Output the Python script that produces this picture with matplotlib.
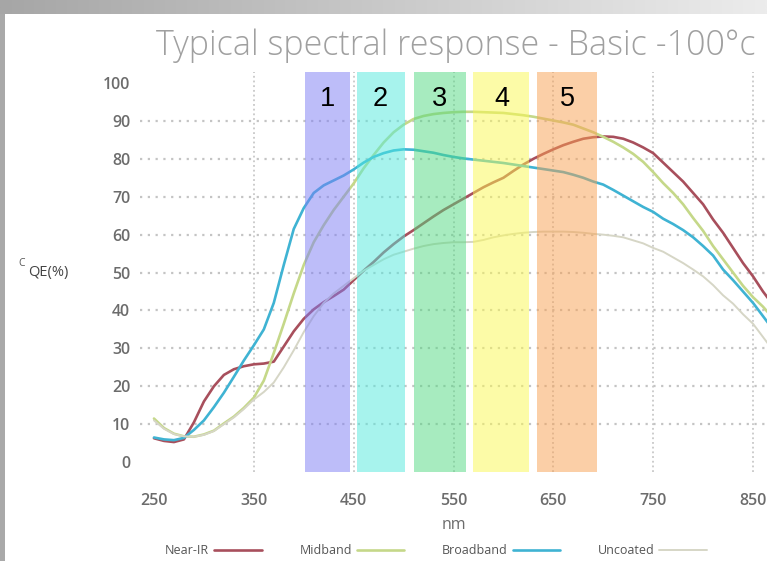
import numpy as np
import matplotlib
matplotlib.use('Agg')
import matplotlib.pyplot as plt

## Wavelength grid (nm) and QE (%)
wavelength = [250, 260, 270, 280, 290, 300, 310, 320, 330, 340,
              350, 360, 370, 380, 390, 400, 410, 420, 430, 440,
              450, 460, 470, 480, 490, 500, 510, 520, 530, 540,
              550, 560, 570, 580, 590, 600, 610, 620, 630, 640,
              650, 660, 670, 680, 690, 700, 710, 720, 730, 740,
              750, 760, 770, 780, 790, 800, 810, 820, 830, 840,
              850, 860, 870]

near_ir = [6.3, 5.6, 5.3, 6.0, 10.5, 16.0, 20.0, 23.0, 24.5, 25.3,
           25.8, 26.0, 26.5, 30.5, 34.5, 37.8, 40.3, 42.2, 43.8, 45.5,
           48.0, 50.5, 52.8, 55.3, 57.5, 59.5, 61.2, 63.0, 64.8, 66.5,
           68.0, 69.5, 71.0, 72.5, 73.8, 75.0, 76.8, 78.5, 80.0, 81.3,
           82.5, 83.6, 84.5, 85.3, 85.7, 85.9, 85.8, 85.3, 84.3, 83.0,
           81.5, 79.0, 76.5, 74.0, 71.0, 68.0, 64.0, 60.5, 56.5, 52.5,
           49.0, 45.0, 41.5]

midband = [11.5, 9.0, 7.5, 6.8, 6.7, 7.3, 8.3, 10.2, 12.0, 14.3,
           17.0, 21.5, 28.8, 36.5, 44.5, 52.0, 58.0, 62.5, 66.5, 70.0,
           73.5, 77.5, 81.0, 84.3, 87.0, 89.0, 90.5, 91.3, 91.8, 92.1,
           92.3, 92.4, 92.4, 92.3, 92.2, 92.1, 91.8, 91.5, 91.1, 90.6,
           90.1, 89.6, 89.0, 88.0, 87.0, 85.8, 84.5, 83.0, 81.3, 79.2,
           76.5, 73.6, 71.0, 68.0, 64.4, 61.0, 57.0, 53.5, 50.0, 46.5,
           43.5, 41.0, 38.0]

broadband = [6.5, 6.0, 5.8, 6.4, 8.5, 11.0, 14.5, 18.3, 22.5, 26.8,
             30.8, 35.0, 42.0, 52.0, 61.5, 67.0, 71.0, 73.0, 74.3, 75.6,
             77.2, 79.0, 80.5, 81.5, 82.2, 82.5, 82.4, 82.0, 81.6, 81.0,
             80.5, 80.1, 79.8, 79.5, 79.2, 78.9, 78.5, 78.1, 77.7, 77.3,
             76.9, 76.5, 75.8, 75.0, 74.0, 73.2, 71.8, 70.3, 68.8, 67.3,
             66.0, 64.2, 62.8, 61.2, 59.3, 57.0, 54.5, 50.8, 48.0, 45.0,
             42.0, 38.5, 35.0]

uncoated = [11.0, 8.8, 7.4, 6.8, 6.7, 7.2, 8.2, 10.0, 11.8, 14.0,
            16.5, 18.5, 21.0, 25.0, 29.5, 34.3, 38.5, 42.0, 44.5, 46.5,
            48.5, 50.5, 52.0, 53.5, 54.7, 55.5, 56.3, 57.0, 57.5, 57.8,
            58.0, 58.0, 58.1, 58.6, 59.3, 59.8, 60.2, 60.5, 60.7, 60.8,
            60.8, 60.8, 60.7, 60.5, 60.2, 60.0, 59.7, 59.3, 58.5, 57.7,
            56.5, 55.5, 54.0, 52.5, 50.8, 49.0, 46.7, 44.0, 41.8, 39.0,
            36.5, 33.0, 29.5]

## Filter bands (nm) and their labels
band_labels = ['1', '2', '3', '4', '5']
band_start = [401, 453, 510, 570, 634]
band_end = [446, 501, 563, 626, 694]
band_colors = ['#7d7df5', '#51e9dd', '#51d981', '#fbf951', '#f9a151']

series_labels = ['Near-IR', 'Midband', 'Broadband', 'Uncoated']
series_colors = ['#a84f5c', '#c5d889', '#3fb3d3', '#d6d6c6']

x_ticks = [250, 350, 450, 550, 650, 750, 850]
y_ticks = [0, 10, 20, 30, 40, 50, 60, 70, 80, 90, 100]

fig = plt.figure(figsize=(7.67, 5.61), dpi=100)
fig.patch.set_facecolor('white')

## screenshot frame: grey bar on the left and gradient on top
frame_left = fig.add_axes([0, 0, 5 / 767, 1])
frame_left.set_facecolor('#a9a9a9')
frame_left.set_xticks([])
frame_left.set_yticks([])
for s in frame_left.spines.values():
    s.set_visible(False)
frame_top = fig.add_axes([0, 1 - 14 / 561, 1, 14 / 561])
frame_top.imshow(np.linspace(0, 1, 256)[None, :], aspect='auto',
                 cmap=matplotlib.colors.LinearSegmentedColormap.from_list('g', ['#a6a6a6', '#ececec']))
frame_top.axis('off')

ax = fig.add_axes([140 / 767, 89 / 561, 627 / 767, 400 / 561])
for s in ax.spines.values():
    s.set_visible(False)

series = [near_ir, midband, broadband, uncoated]
widths = [1.9, 1.9, 1.9, 1.4]
for vals, lab, col, lw in zip(series, series_labels, series_colors, widths):
    ax.plot(wavelength, vals, color=col, lw=lw, label=lab, zorder=3,
            solid_capstyle='round')

for lab, x0, x1, col in zip(band_labels, band_start, band_end, band_colors):
    ax.axvspan(x0, x1, color=col, alpha=0.5, lw=0, zorder=4)
    ax.text((x0 + x1) / 2, 95.8, lab, ha='center', va='center', fontsize=19.5,
            family='Liberation Sans', color='black', zorder=5)

ax.set_xlim(236, 864)
ax.set_ylim(-2.6, 102.9)
ax.set_xticks(x_ticks)
ax.set_yticks(y_ticks)
ax.tick_params(length=0, labelcolor='#6c6c6c', labelsize=11.5)
ax.tick_params(axis='x', pad=15)
ax.tick_params(axis='y', pad=7)
for lbl in ax.get_xticklabels() + ax.get_yticklabels():
    lbl.set_family('Open Sans')
    lbl.set_fontweight('semibold')

ax.grid(True, axis='y', color='#c4c4c4', linestyle=(0, (1, 2.5)), lw=1.6, zorder=1)
ax.grid(True, axis='x', color='#c8c8c8', linestyle=(0, (1, 1.6)), lw=1.3, zorder=1)
ax.xaxis.get_gridlines()[0].set_visible(False)
ax.yaxis.get_gridlines()[0].set_visible(False)
ax.yaxis.get_gridlines()[-1].set_visible(False)

ax.set_xlabel('nm', family='Open Sans', fontsize=11.5, color='#6c6c6c', labelpad=6)

fig.text(456 / 767, 1 - 46 / 561, 'Typical spectral response - Basic -100\u00b0c',
         ha='center', va='center', fontsize=24.5, color='#a0a0a0',
         family='Open Sans', fontweight='light')
fig.text(22 / 767, 1 - 263 / 561, 'C', ha='center', va='center', fontsize=7.5,
         color='#555555', family='Open Sans')
fig.text(48 / 767, 1 - 273 / 561, 'QE(%)', ha='center', va='center', fontsize=10.5,
         color='#444444', family='Open Sans')

leg = ax.legend(loc='center', bbox_to_anchor=(436 / 767, 1 - 551 / 561),
                bbox_transform=fig.transFigure, ncol=4, frameon=False,
                markerfirst=False, handlelength=3.8, handletextpad=0.4,
                columnspacing=3.0, prop={'family': 'Open Sans', 'size': 9})
for t in leg.get_texts():
    t.set_color('#555555')

fig.savefig('out.png', dpi=100)
